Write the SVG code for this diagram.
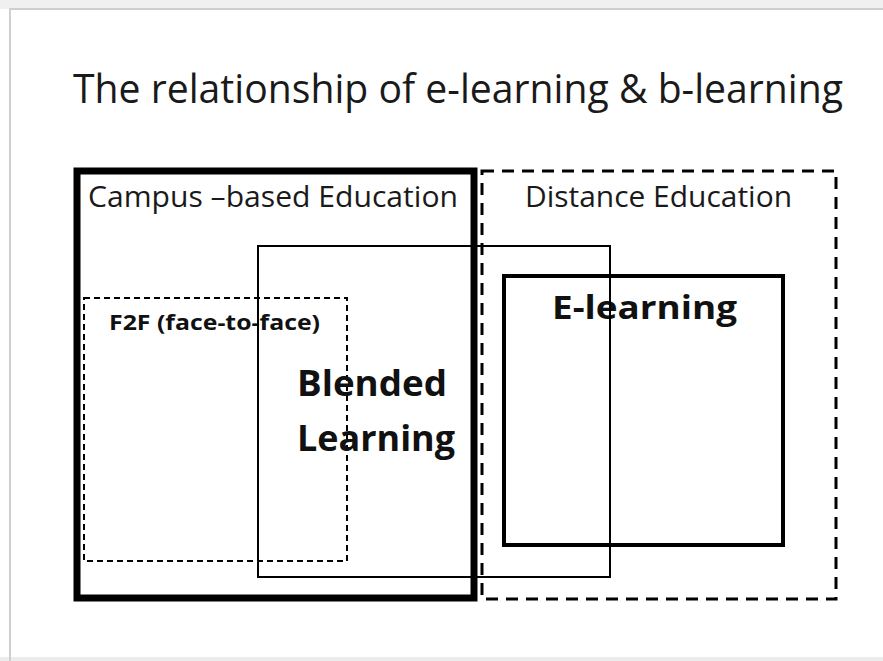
<svg xmlns="http://www.w3.org/2000/svg" width="883" height="661" viewBox="0 0 883 661">
<style>
.t{font-family:"Open Sans","Liberation Sans",Arial,sans-serif;fill:#1a1a1a}
.b{font-family:"Open Sans","Liberation Sans",Arial,sans-serif;font-weight:bold;fill:#111}
.box{fill:none;stroke:#000}
</style>
<rect x="0" y="0" width="883" height="661" fill="#ffffff"/>
<rect x="0" y="0" width="883" height="9" fill="#f0f0f0"/>
<rect x="0" y="657" width="883" height="4" fill="#ececec"/>
<path d="M10,662 V9 H883" fill="none" stroke="#cfcfcf" stroke-width="2"/>
<text class="t" x="73" y="103" font-size="40" textLength="770" lengthAdjust="spacingAndGlyphs">The relationship of e-learning &amp; b-learning</text>
<g id="campus">
<rect class="box" x="77" y="171" width="397" height="427" stroke-width="7"/>
<text class="t" x="88" y="207" font-size="29" textLength="370" lengthAdjust="spacingAndGlyphs">Campus –based Education</text>
</g>
<g id="distance">
<rect class="box" x="482" y="171" width="354" height="428" stroke-width="3" stroke-dasharray="12,8"/>
<text class="t" x="525" y="207" font-size="29" textLength="267" lengthAdjust="spacingAndGlyphs">Distance Education</text>
</g>
<g id="f2f">
<rect class="box" x="84" y="298" width="263" height="263" stroke-width="2" stroke-dasharray="6,4"/>
<text class="b" x="109" y="330" font-size="21" textLength="211" lengthAdjust="spacingAndGlyphs">F2F (face-to-face)</text>
</g>
<g id="elearning">
<rect class="box" x="504" y="276" width="279" height="269" stroke-width="4"/>
<text class="b" x="552" y="319" font-size="33" textLength="185" lengthAdjust="spacingAndGlyphs">E-learning</text>
</g>
<g id="blended">
<text class="b" x="297" y="396" font-size="36" textLength="150" lengthAdjust="spacingAndGlyphs">Blended</text>
<text class="b" x="297" y="451" font-size="36" textLength="158" lengthAdjust="spacingAndGlyphs">Learning</text>
<rect class="box" x="258" y="246" width="352" height="331" stroke-width="2"/>
</g>
<g id="connectors"></g>
</svg>
